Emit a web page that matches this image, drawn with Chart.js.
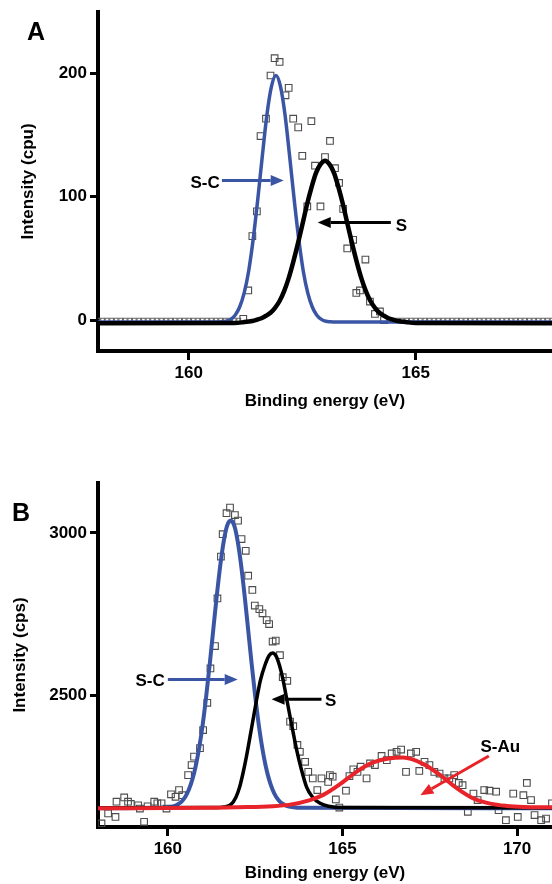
<!DOCTYPE html>
<html>
<head>
<meta charset="utf-8">
<script src="https://cdn.jsdelivr.net/npm/chart.js@4.4.1/dist/chart.umd.min.js"></script>
<style>
  body { margin: 0; background: #fff; width: 552px; height: 884px; position: relative; overflow: hidden; }
  canvas { position: absolute; left: 0; }
  #chartA { top: 0; }
  #chartB { top: 440px; }
</style>
</head>
<body>
<canvas id="chartA" width="552" height="420"></canvas>
<canvas id="chartB" width="552" height="444"></canvas>
<script>
const FONT = '"Liberation Sans", Arial, sans-serif';

// ---- panel A ----
const xTicksA = [160, 165];
const yTicksA = [0, 100, 200];
const measXA = [161.20, 161.31, 161.40, 161.50, 161.58, 161.70, 161.80, 161.89, 162.00, 162.13, 162.20, 162.30,
  162.41, 162.50, 162.61, 162.70, 162.78, 162.90, 163.00, 163.11, 163.22, 163.31, 163.40, 163.49, 163.62, 163.69,
  163.77, 163.89, 163.99, 164.10, 164.21, 164.30];
const measYA = [1, 24, 68, 88, 149, 163, 198, 212, 209, 182, 188, 163,
  156, 133, 92, 161, 125, 92, 132, 145, 123, 111, 90, 58, 65, 22,
  24, 49, 15, 5, 7, 0];
// flat part of the spectrum (all at 0 cpu)
const flatXA = [158.0, 158.1, 158.2, 158.3, 158.4, 158.5, 158.6, 158.7, 158.8, 158.9, 159.0, 159.1, 159.2, 159.3,
  159.4, 159.5, 159.6, 159.7, 159.8, 159.9, 160.0, 160.1, 160.2, 160.3, 160.4, 160.5, 160.6, 160.7, 160.8, 160.9,
  161.0, 161.1,
  164.4, 164.5, 164.6, 164.7, 164.8, 164.9, 165.0, 165.1, 165.2, 165.3, 165.4, 165.5, 165.6, 165.7, 165.8, 165.9,
  166.0, 166.1, 166.2, 166.3, 166.4, 166.5, 166.6, 166.7, 166.8, 166.9, 167.0, 167.1, 167.2, 167.3, 167.4, 167.5,
  167.6, 167.7, 167.8, 167.9, 168.0];
const scXA = [158, 160.62, 160.72, 160.82, 160.92, 161.02, 161.12, 161.22, 161.32, 161.42, 161.52, 161.62, 161.72,
  161.82, 161.92, 162.02, 162.12, 162.22, 162.32, 162.42, 162.52, 162.62, 162.72, 162.82, 162.92, 163.02, 163.12,
  163.22, 168];
const scYA = [-1.5, -1.5, -1.3, -0.9, 0.6, 4, 10.6, 22, 40, 66, 98, 133, 166,
  189, 198, 189, 166, 133, 98, 66, 40, 22, 10.6, 4, 0.6, -0.9, -1.3,
  -1.5, -1.5];
const sXA = [158, 161.0, 161.2, 161.4, 161.5, 161.6, 161.7, 161.8, 161.9, 162.0, 162.1, 162.2, 162.3, 162.4, 162.5,
  162.6, 162.7, 162.8, 162.9, 163.0, 163.1, 163.2, 163.3, 163.4, 163.5, 163.6, 163.7, 163.8, 163.9, 164.0, 164.1,
  164.2, 164.3, 164.4, 164.5, 164.6, 164.8, 165.0, 168];
const sYA = [-2.5, -2.3, -1.7, -0.7, 0.3, 1.5, 3.5, 6, 10, 15.5, 23.5, 34, 47, 61.5, 77,
  93, 107, 119, 126, 129, 126, 119, 107, 93, 77, 61.5, 47, 34, 23.5, 15.5, 10,
  6, 3.5, 1.5, 0.3, -0.7, -1.7, -2.3, -2.5];

// ---- panel B ----
const xTicksB = [160, 165, 170];
const yTicksB = [2500, 3000];
const measXB = [158.10, 158.29, 158.50, 158.53, 158.75, 158.86, 158.94, 159.15, 159.20, 159.32, 159.42, 159.61,
  159.70, 159.82, 159.96, 160.09, 160.22, 160.32, 160.41, 160.58, 160.68, 160.75, 160.92, 161.01, 161.13, 161.22,
  161.35, 161.42, 161.52, 161.57, 161.68, 161.78, 161.92, 162.01, 162.11, 162.23, 162.30, 162.42, 162.49, 162.62,
  162.71, 162.83, 162.90, 163.00, 163.09, 163.21, 163.29, 163.42, 163.50, 163.59, 163.71, 163.78, 163.93, 164.02,
  164.15, 164.28, 164.40, 164.59, 164.64, 164.72, 164.81, 164.91, 165.10, 165.20, 165.31, 165.43, 165.52, 165.69,
  165.79, 165.93, 166.12, 166.27, 166.41, 166.55, 166.68, 166.82, 166.96, 167.11, 167.20, 167.35, 167.49, 167.63,
  167.78, 167.92, 168.06, 168.20, 168.33, 168.44, 168.59, 168.75, 168.87, 169.06, 169.21, 169.40, 169.47, 169.68,
  169.89, 170.02, 170.18, 170.28, 170.40, 170.50, 170.69, 170.83, 171.00];
const measYB = [2104, 2135, 2124, 2171, 2184, 2171, 2164, 2160, 2150, 2109, 2157, 2171,
  2166, 2166, 2150, 2194, 2186, 2207, 2191, 2253, 2284, 2310, 2336, 2392, 2476, 2582,
  2651, 2798, 2927, 2996, 3061, 3078, 3055, 3038, 2981, 2945, 2868, 2824, 2776, 2765,
  2752, 2731, 2719, 2665, 2668, 2623, 2555, 2544, 2418, 2404, 2346, 2325, 2294, 2263,
  2243, 2207, 2243, 2232, 2253, 2248, 2178, 2153, 2205, 2250, 2271, 2263, 2279, 2243,
  2289, 2284, 2312, 2299, 2320, 2325, 2332, 2263, 2320, 2325, 2266, 2294, 2284, 2263,
  2258, 2243, 2243, 2253, 2229, 2222, 2140, 2196, 2176, 2207, 2205, 2202, 2145, 2114,
  2196, 2124, 2191, 2229, 2176, 2130, 2114, 2119, 2166];
const scXB = [158, 159.8, 160.0, 160.2, 160.3, 160.4, 160.5, 160.6, 160.7, 160.8, 160.9, 161.0, 161.1, 161.2,
  161.3, 161.4, 161.5, 161.6, 161.7, 161.8, 161.9, 162.0, 162.1, 162.2, 162.3, 162.4, 162.5, 162.6, 162.7,
  162.8, 162.9, 163.0, 163.1, 163.2, 163.3, 163.4, 163.6, 163.8, 171];
const scYB = [2151, 2152, 2154, 2158, 2164, 2172, 2186, 2208, 2239, 2282, 2339, 2411, 2498, 2596,
  2701, 2805, 2899, 2974, 3023, 3038, 3023, 2974, 2899, 2805, 2701, 2596, 2498, 2411, 2339,
  2282, 2239, 2208, 2186, 2172, 2164, 2158, 2154, 2152, 2151];
const sXB = [158, 161.4, 161.6, 161.8, 161.95, 162.06, 162.15, 162.25, 162.4, 162.54, 162.65, 162.78, 162.9, 163.0,
  163.1, 163.2, 163.3, 163.4, 163.5, 163.6, 163.69, 163.8, 163.97, 164.15, 164.36, 164.6, 165, 171];
const sYB = [2152, 2153, 2155, 2162, 2185, 2218, 2258, 2310, 2400, 2485, 2545, 2592, 2622, 2630,
  2620, 2590, 2546, 2490, 2433, 2378, 2330, 2280, 2217, 2184, 2166, 2157, 2153, 2152];
const auXB = [158, 161, 162, 163, 163.5, 164.07, 164.45, 164.93, 165.41, 165.88, 166.36, 166.74, 167.32, 167.79,
  168.27, 168.75, 169.23, 169.7, 170.18, 171];
const auYB = [2151, 2152, 2154, 2157, 2162, 2176, 2192, 2225, 2264, 2292, 2305, 2307, 2287, 2254,
  2213, 2181, 2165, 2158, 2155, 2154];

const zip = (xs, ys) => xs.map((x, i) => ({ x: x, y: ys[i] }));

function drawArrow(ctx, x1, y1, x2, y2, color) {
  const ang = Math.atan2(y2 - y1, x2 - x1);
  const len = 13, half = 5.5;
  const bx = x2 - len * Math.cos(ang), by = y2 - len * Math.sin(ang);
  ctx.strokeStyle = color;
  ctx.fillStyle = color;
  ctx.lineWidth = 3;
  ctx.beginPath();
  ctx.moveTo(x1, y1);
  ctx.lineTo(bx, by);
  ctx.stroke();
  ctx.beginPath();
  ctx.moveTo(x2, y2);
  ctx.lineTo(bx + half * Math.sin(ang), by - half * Math.cos(ang));
  ctx.lineTo(bx - half * Math.sin(ang), by + half * Math.cos(ang));
  ctx.closePath();
  ctx.fill();
}

const notesPlugin = {
  id: 'notes',
  afterDatasetsDraw(chart, args, opts) {
    const ctx = chart.ctx, xs = chart.scales.x, ys = chart.scales.y;
    ctx.save();
    (opts.arrows || []).forEach(a => {
      drawArrow(ctx, xs.getPixelForValue(a.from[0]), ys.getPixelForValue(a.from[1]),
        xs.getPixelForValue(a.to[0]), ys.getPixelForValue(a.to[1]), a.color);
    });
    ctx.fillStyle = '#000';
    ctx.textBaseline = 'middle';
    ctx.font = 'bold 17px ' + FONT;
    (opts.labels || []).forEach(l => {
      ctx.textAlign = l.align;
      ctx.fillText(l.text, xs.getPixelForValue(l.x), ys.getPixelForValue(l.y));
    });
    ctx.font = 'bold 25px ' + FONT;
    ctx.textAlign = 'center';
    ctx.fillText(opts.panel, opts.panelAt[0], opts.panelAt[1]);
    ctx.restore();
  }
};

function lineSet(points, color, width) {
  return {
    data: points, showLine: true, pointRadius: 0, borderColor: color, borderWidth: width,
    cubicInterpolationMode: 'monotone', fill: false
  };
}

function pointSet(points, radius, color) {
  return {
    data: points, showLine: false, pointStyle: 'rect', pointRadius: radius,
    pointBorderColor: color, pointBackgroundColor: 'rgba(0,0,0,0)', pointBorderWidth: 1.1
  };
}

function drawPanel(canvasId, datasets, xr, yr, xTicks, yTicks, yTitle, sizes, notes) {
  const tickFont = { family: FONT, size: 17, weight: 'bold' };
  return new Chart(document.getElementById(canvasId), {
    type: 'scatter',
    data: { datasets: datasets },
    plugins: [notesPlugin],
    options: {
      responsive: false,
      animation: false,
      events: [],
      layout: { padding: { top: sizes.top, left: 0, right: 0, bottom: 0 }, autoPadding: false },
      plugins: { legend: { display: false }, tooltip: { enabled: false }, notes: notes },
      scales: {
        x: {
          type: 'linear', min: xr[0], max: xr[1],
          afterBuildTicks: s => { s.ticks = xTicks.map(v => ({ value: v })); },
          afterFit: s => { s.height = sizes.xHeight; s.paddingLeft = 0; s.paddingRight = 0; },
          grid: { drawOnChartArea: false, drawTicks: true, tickLength: 9, lineWidth: 3, color: '#000' },
          border: { display: true, width: 4, color: '#000' },
          ticks: { color: '#000', font: tickFont, padding: 3, maxRotation: 0, callback: v => String(v) },
          title: {
            display: true, text: 'Binding energy (eV)', color: '#000', font: tickFont,
            padding: { top: 0, bottom: sizes.xTitlePad }
          }
        },
        y: {
          type: 'linear', min: yr[0], max: yr[1],
          afterBuildTicks: s => { s.ticks = yTicks.map(v => ({ value: v })); },
          afterFit: s => { s.width = 98; s.paddingTop = 0; s.paddingBottom = 0; },
          grid: { drawOnChartArea: false, drawTicks: true, tickLength: 8, lineWidth: 3, color: '#000' },
          border: { display: true, width: 4, color: '#000' },
          ticks: { color: '#000', font: tickFont, padding: 3, callback: v => String(v) },
          title: {
            display: true, text: yTitle, color: '#000', font: tickFont,
            padding: { top: sizes.yTitlePad, bottom: 0 }
          }
        }
      }
    }
  });
}

const BLUE = '#3b55a5', RED = '#e8232a', DOT = '#4d4d4d';

drawPanel('chartA', [
    lineSet(zip(sXA, sYA), '#000', 4.5),
    lineSet(zip(scXA, scYA), BLUE, 3.5),
    pointSet(zip(measXA, measYA), 4.7, DOT),
    pointSet(flatXA.map(x => ({ x: x, y: 0 })), 2.6, '#666')
  ],
  [158, 168], [-25, 249.4], xTicksA, yTicksA, 'Intensity (cpu)',
  { top: 12, xHeight: 69, xTitlePad: 8, yTitlePad: 18 },
  {
    panel: 'A', panelAt: [36, 33],
    arrows: [
      { from: [160.73, 113], to: [162.09, 113], color: BLUE },
      { from: [164.45, 79], to: [162.84, 79], color: '#000' }
    ],
    labels: [
      { text: 'S-C', x: 160.68, y: 111, align: 'right' },
      { text: 'S', x: 164.56, y: 76, align: 'left' }
    ]
  });

drawPanel('chartB', [
    lineSet(zip(auXB, auYB), RED, 4),
    lineSet(zip(sXB, sYB), '#000', 3.5),
    lineSet(zip(scXB, scYB), BLUE, 4),
    pointSet(zip(measXB, measYB), 4.7, DOT)
  ],
  [158, 171], [2093, 3154], xTicksB, yTicksB, 'Intensity (cps)',
  { top: 43, xHeight: 57, xTitlePad: 0, yTitlePad: 10 },
  {
    panel: 'B', panelAt: [21, 74],
    arrows: [
      { from: [160.0, 2548], to: [162.0, 2548], color: BLUE },
      { from: [164.40, 2487], to: [162.97, 2487], color: '#000' },
      { from: [169.19, 2312], to: [167.23, 2191], color: RED }
    ],
    labels: [
      { text: 'S-C', x: 159.91, y: 2543, align: 'right' },
      { text: 'S', x: 164.5, y: 2482, align: 'left' },
      { text: 'S-Au', x: 169.52, y: 2340, align: 'center' }
    ]
  });
</script>
</body>
</html>
